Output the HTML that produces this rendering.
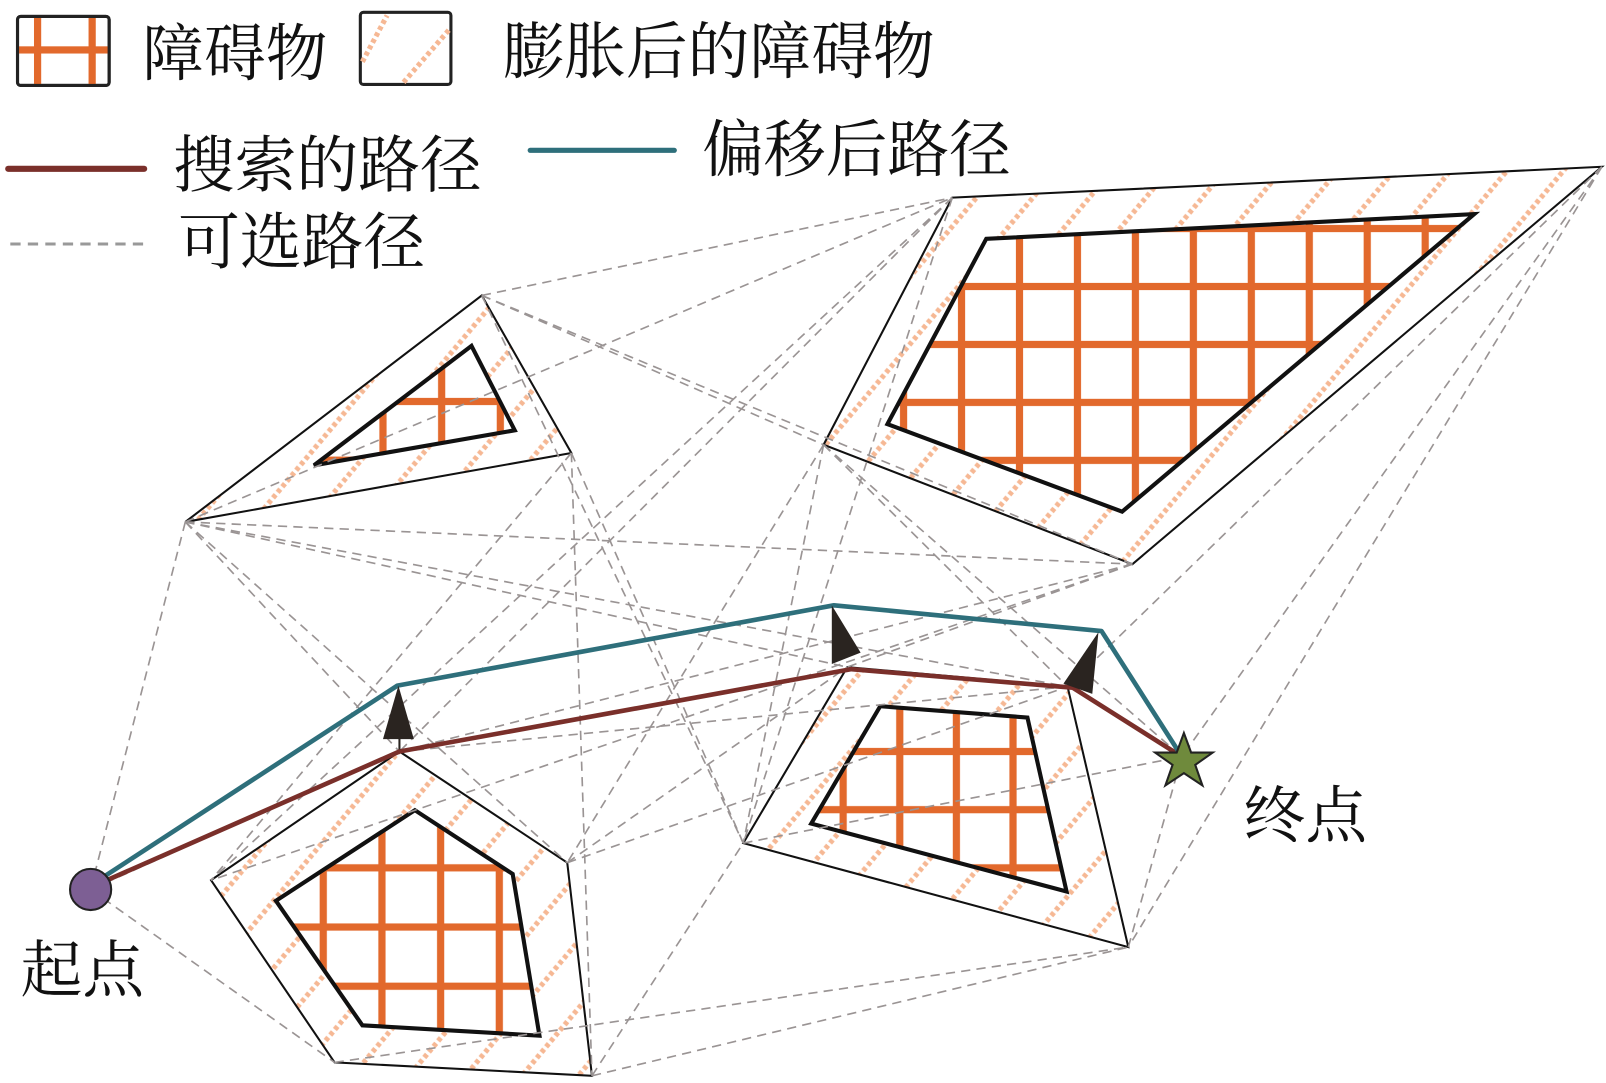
<!DOCTYPE html>
<html><head><meta charset="utf-8"><style>html,body{margin:0;padding:0;background:#fff}svg{display:block}</style></head>
<body>
<svg width="1606" height="1083" viewBox="0 0 1560 1052" xmlns="http://www.w3.org/2000/svg">
<defs>
<pattern id="hatch" width="42" height="42" patternUnits="userSpaceOnUse" patternTransform="rotate(40)">
<line x1="10" y1="0" x2="10" y2="42" stroke="#f6b894" stroke-width="5" stroke-dasharray="4 3"/>
</pattern>
<pattern id="gB" x="934" y="222" width="56.3" height="56.3" patternUnits="userSpaceOnUse">
<rect x="-3.5" y="0" width="7" height="57" fill="#e2692c"/><rect x="0" y="-3.5" width="57" height="7" fill="#e2692c"/>
<rect x="52.8" y="0" width="7" height="57" fill="#e2692c"/><rect x="0" y="52.8" width="57" height="7" fill="#e2692c"/>
</pattern>
<pattern id="gC" x="314" y="843" width="57" height="57.5" patternUnits="userSpaceOnUse">
<rect x="-3.5" y="0" width="7" height="58" fill="#e2692c"/><rect x="0" y="-3.5" width="58" height="7" fill="#e2692c"/>
<rect x="53.5" y="0" width="7" height="58" fill="#e2692c"/><rect x="0" y="54" width="58" height="7" fill="#e2692c"/>
</pattern>
<pattern id="gD" x="819" y="730" width="55" height="56.5" patternUnits="userSpaceOnUse">
<rect x="-3.5" y="0" width="7" height="57" fill="#e2692c"/><rect x="0" y="-3.5" width="56" height="7" fill="#e2692c"/>
<rect x="51.5" y="0" width="7" height="57" fill="#e2692c"/><rect x="0" y="53" width="56" height="7" fill="#e2692c"/>
</pattern>
<pattern id="gA" x="372" y="390" width="57" height="57" patternUnits="userSpaceOnUse">
<rect x="-3.5" y="0" width="7" height="57" fill="#e2692c"/><rect x="0" y="-3.5" width="57" height="7" fill="#e2692c"/>
<rect x="53.5" y="0" width="7" height="57" fill="#e2692c"/><rect x="0" y="53.5" width="57" height="7" fill="#e2692c"/>
</pattern>
</defs>

<!-- legend -->
<rect x="17" y="16" width="89" height="67" rx="3" fill="#fff" stroke="#222" stroke-width="3"/>
<rect x="33" y="16" width="7" height="67" fill="#e2692c"/><rect x="86" y="16" width="7" height="67" fill="#e2692c"/>
<rect x="17" y="45" width="89" height="7" fill="#e2692c"/>
<rect x="17" y="16" width="89" height="67" rx="3" fill="none" stroke="#222" stroke-width="3"/>
<rect x="350" y="12" width="88" height="70" rx="3" fill="#fff" stroke="#222" stroke-width="3"/>
<line x1="352" y1="60" x2="376" y2="15" stroke="#f6b894" stroke-width="5" stroke-dasharray="4 3"/>
<line x1="392" y1="80" x2="437" y2="28" stroke="#f6b894" stroke-width="5" stroke-dasharray="4 3"/>
<g font-family="'Liberation Serif','Noto Serif CJK SC',serif" font-size="60" fill="#111">
<text x="138" y="73">障碍物</text>
<text x="488" y="71">膨胀后的障碍物</text>
<text x="168" y="181">搜索的路径</text>
<text x="682" y="166">偏移后路径</text>
<text x="173" y="256">可选路径</text>
<text x="20" y="963">起点</text>
<text x="1208" y="813">终点</text>
</g>
<line x1="8" y1="164" x2="140" y2="164" stroke="#7a2f2a" stroke-width="6" stroke-linecap="round"/>
<line x1="515" y1="146" x2="655" y2="146" stroke="#2e6f7b" stroke-width="5" stroke-linecap="round"/>
<line x1="10" y1="237" x2="145" y2="237" stroke="#999" stroke-width="3" stroke-dasharray="10 7"/>

<!-- obstacles -->
<g stroke="#111" stroke-linejoin="miter">
<path d="M468,287 L555,440 L180,507Z M458,336 L500,418 L305,452Z" fill="url(#hatch)" fill-rule="evenodd" stroke="none"/>
<polygon points="458,336 500,418 305,452" fill="url(#gA)" stroke-width="4"/>
<polygon points="468,287 555,440 180,507" fill="none" stroke-width="2"/>

<path d="M925,192 L1556,162 L1100,548 L800,432Z M958,232 L1432,208 L1090,497 L862,412Z" fill="url(#hatch)" fill-rule="evenodd" stroke="none"/>
<polygon points="958,232 1432,208 1090,497 862,412" fill="url(#gB)" stroke-width="4"/>
<polygon points="925,192 1556,162 1100,548 800,432" fill="none" stroke-width="2"/>

<path d="M388,730 L551,838 L575,1045 L325,1032 L205,855Z M403,787 L498,849 L524,1006 L352,996 L268,875Z" fill="url(#hatch)" fill-rule="evenodd" stroke="none"/>
<polygon points="403,787 498,849 524,1006 352,996 268,875" fill="url(#gC)" stroke-width="4"/>
<polygon points="388,730 551,838 575,1045 325,1032 205,855" fill="none" stroke-width="2"/>

<path d="M823,648 L1037,667 L1096,920 L722,819Z M855,686 L998,697 L1036,866 L788,800Z" fill="url(#hatch)" fill-rule="evenodd" stroke="none"/>
<polygon points="855,686 998,697 1036,866 788,800" fill="url(#gD)" stroke-width="4"/>
<polygon points="823,648 1037,667 1096,920 722,819" fill="none" stroke-width="2"/>
</g>

<!-- dashed candidate lines -->
<g stroke="#9a9494" stroke-width="1.6" stroke-dasharray="9 6" fill="none">
<line x1="468" y1="287" x2="925" y2="192"/>
<line x1="180" y1="507" x2="925" y2="192"/>
<line x1="468" y1="287" x2="800" y2="432"/>
<line x1="468" y1="287" x2="1100" y2="548"/>
<line x1="180" y1="507" x2="1100" y2="548"/>
<line x1="180" y1="507" x2="1037" y2="667"/>
<line x1="180" y1="507" x2="823" y2="648"/>
<line x1="180" y1="507" x2="388" y2="730"/>
<line x1="180" y1="507" x2="88" y2="864"/>
<line x1="180" y1="507" x2="551" y2="838"/>
<line x1="555" y1="440" x2="722" y2="819"/>
<line x1="555" y1="440" x2="205" y2="855"/>
<line x1="555" y1="440" x2="575" y2="1045"/>
<line x1="468" y1="287" x2="722" y2="819"/>
<line x1="925" y1="192" x2="388" y2="730"/>
<line x1="925" y1="192" x2="722" y2="819"/>
<line x1="925" y1="192" x2="205" y2="855"/>
<line x1="800" y1="432" x2="551" y2="838"/>
<line x1="800" y1="432" x2="1037" y2="667"/>
<line x1="800" y1="432" x2="1148" y2="735"/>
<line x1="800" y1="432" x2="722" y2="819"/>
<line x1="1100" y1="548" x2="388" y2="730"/>
<line x1="1100" y1="548" x2="823" y2="648"/>
<line x1="1100" y1="548" x2="205" y2="855"/>
<line x1="1556" y1="162" x2="1148" y2="735"/>
<line x1="1556" y1="162" x2="1096" y2="920"/>
<line x1="1556" y1="162" x2="1037" y2="667"/>
<line x1="88" y1="864" x2="325" y2="1032"/>
<line x1="88" y1="864" x2="388" y2="730"/>
<line x1="575" y1="1045" x2="1096" y2="920"/>
<line x1="575" y1="1045" x2="722" y2="819"/>
<line x1="325" y1="1032" x2="1096" y2="920"/>
<line x1="551" y1="838" x2="823" y2="648"/>
<line x1="551" y1="838" x2="1037" y2="667"/>
<line x1="722" y1="819" x2="1148" y2="735"/>
<line x1="1096" y1="920" x2="1148" y2="735"/>
<line x1="388" y1="730" x2="1037" y2="667"/>
</g>

<!-- paths -->
<polyline points="88,862 388,730 827,650 1042,668 1148,735" fill="none" stroke="#7a2f2a" stroke-width="4.5" stroke-linejoin="round"/>
<polyline points="88,860 386,666 810,588 1070,613 1148,735" fill="none" stroke="#2e6f7b" stroke-width="4.5" stroke-linejoin="round"/>
<!-- arrows -->
<g fill="#2a2420" stroke="#2a2420">
<line x1="388" y1="728" x2="388" y2="715" stroke-width="2"/>
<polygon points="387,666 372,718 402,718" stroke="none"/>
<polygon points="808,588 808,645 836,634" stroke="none"/>
<polygon points="1067,614 1033,664 1061,674" stroke="none"/>
</g>
<!-- start/end -->
<circle cx="88" cy="864" r="20" fill="#7d5f94" stroke="#222" stroke-width="2"/>
<polygon points="1150,712 1157,731 1178,731 1161,743 1168,763 1150,751 1132,763 1139,743 1122,731 1143,731" fill="#6f8a3c" stroke="#222" stroke-width="2"/>
</svg>
</body></html>
